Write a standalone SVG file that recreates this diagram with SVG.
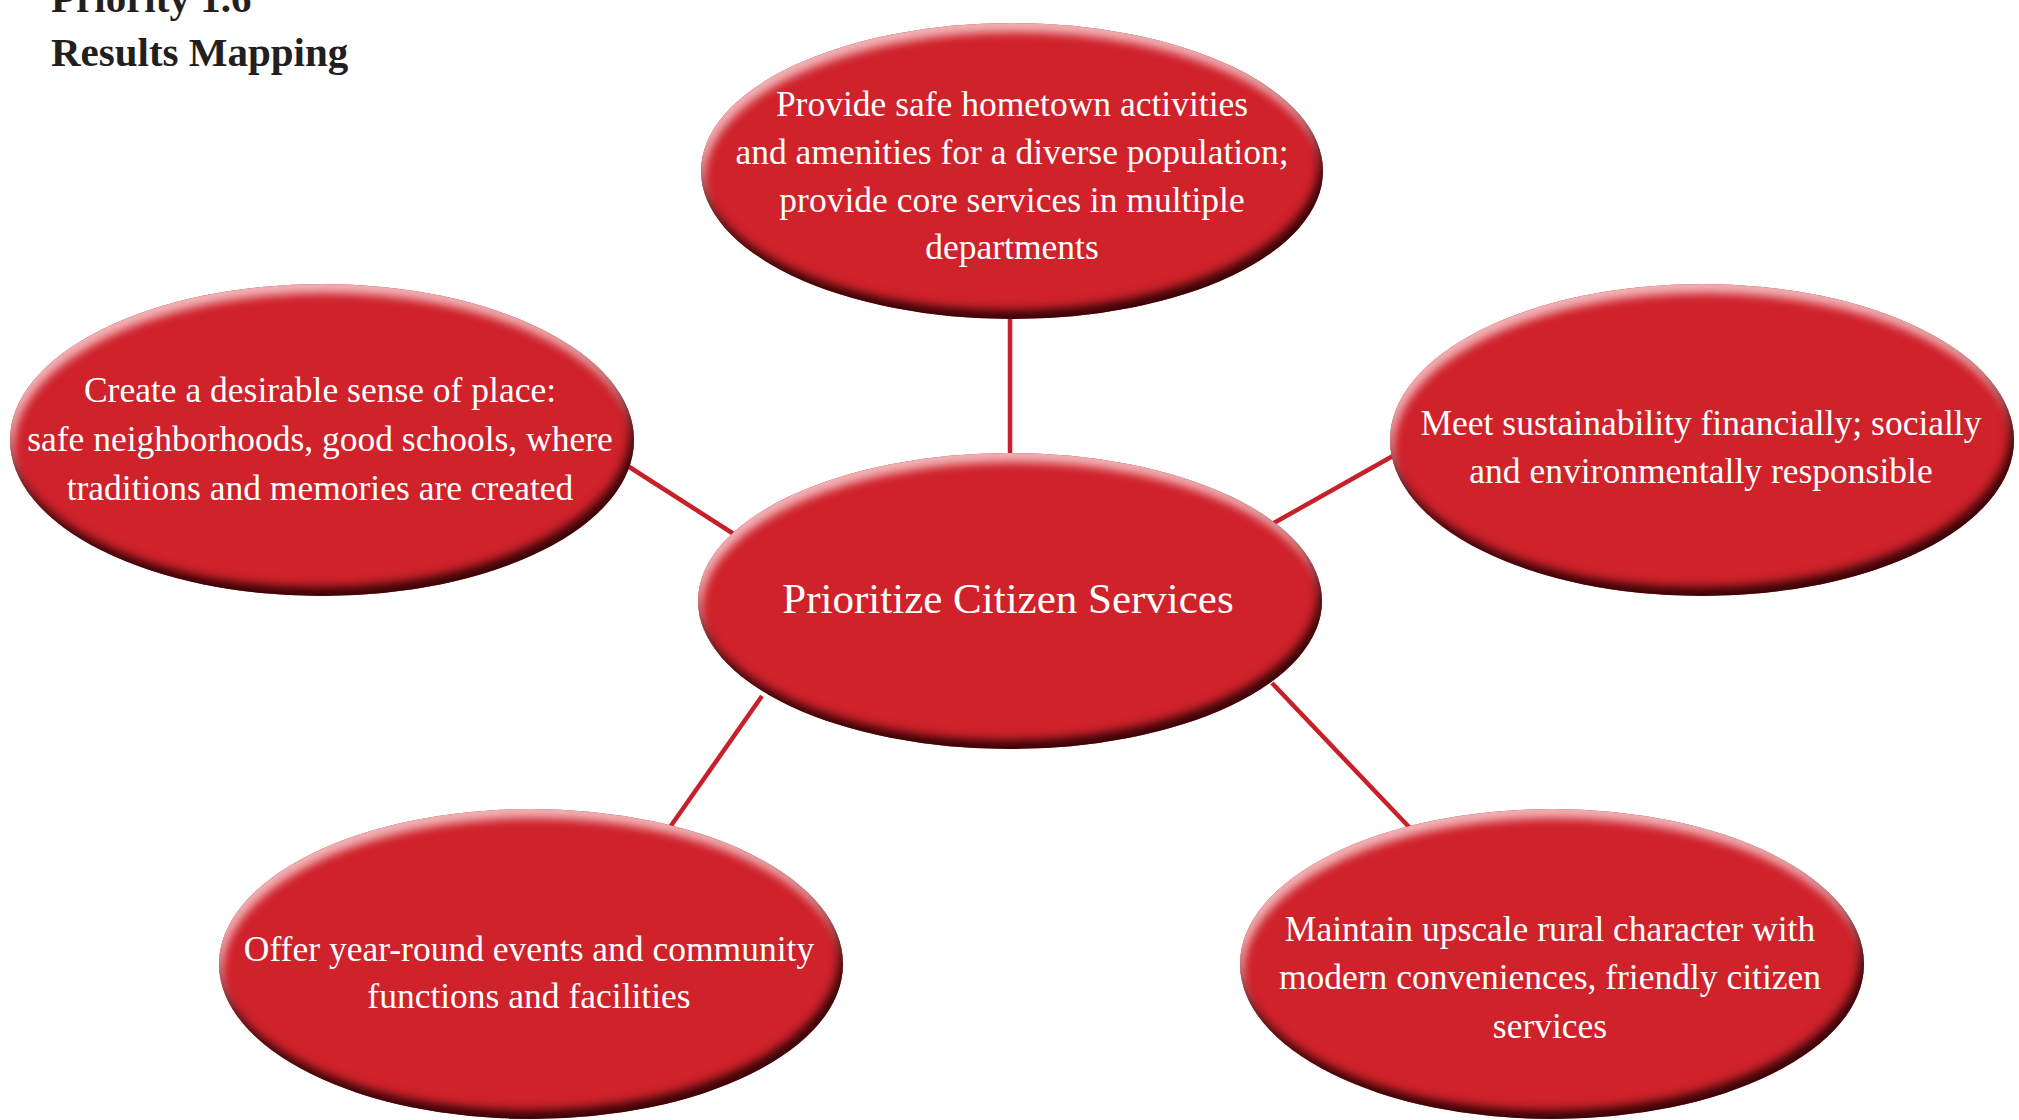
<svg xmlns="http://www.w3.org/2000/svg" width="2019" height="1120" viewBox="0 0 2019 1120">
<defs>
<filter id="bevel" x="-5%" y="-5%" width="110%" height="110%" color-interpolation-filters="sRGB">
<feGaussianBlur in="SourceAlpha" stdDeviation="5" result="b"/>
<feOffset in="b" dx="-4" dy="-9" result="o1"/>
<feComposite in="SourceAlpha" in2="o1" operator="out" result="rimBR"/>
<feFlood flood-color="#3a0407" result="dark"/>
<feComposite in="dark" in2="rimBR" operator="in" result="shadeBR"/>
<feOffset in="b" dx="3" dy="9" result="o2"/>
<feComposite in="SourceAlpha" in2="o2" operator="out" result="rimTL"/>
<feFlood flood-color="#f2b4b7" result="light"/>
<feComposite in="light" in2="rimTL" operator="in" result="shadeTL"/>
<feMerge><feMergeNode in="SourceGraphic"/><feMergeNode in="shadeTL"/><feMergeNode in="shadeBR"/></feMerge>
</filter>
</defs>
<style>
.node{fill:#cf222b;filter:url(#bevel);}
.lbl{font-family:"Liberation Serif","Times New Roman",serif;fill:#ffffff;font-size:35.5px;text-anchor:middle;}
.big{font-size:43px;}
.title{font-family:"Liberation Serif","Times New Roman",serif;font-weight:bold;fill:#231f20;font-size:41px;}
.conn{stroke:#c8202a;stroke-width:4.5;fill:none;}
</style>
<g id="title">
<text class="title" x="51" y="12">Priority 1.6</text>
<text class="title" x="51" y="66">Results Mapping</text>
</g>
<g id="connectors">
<line class="conn" x1="1010" y1="310" x2="1010" y2="460"/>
<line class="conn" x1="620" y1="461" x2="740" y2="538"/>
<line class="conn" x1="1400" y1="452" x2="1265" y2="528"/>
<line class="conn" x1="762" y1="696" x2="668" y2="830"/>
<line class="conn" x1="1272" y1="683" x2="1410" y2="828"/>
</g>
<g id="node-top">
<ellipse class="node" cx="1012" cy="171" rx="311" ry="148"/>
<text class="lbl" x="1012" y="116">Provide safe hometown activities</text>
<text class="lbl" x="1012" y="164">and amenities for a diverse population;</text>
<text class="lbl" x="1012" y="212">provide core services in multiple</text>
<text class="lbl" x="1012" y="259">departments</text>
</g>
<g id="node-left">
<ellipse class="node" cx="322" cy="440" rx="312" ry="156"/>
<text class="lbl" x="320" y="402">Create a desirable sense of place:</text>
<text class="lbl" x="320" y="451">safe neighborhoods, good schools, where</text>
<text class="lbl" x="320" y="500">traditions and memories are created</text>
</g>
<g id="node-right">
<ellipse class="node" cx="1702" cy="440" rx="312" ry="156"/>
<text class="lbl" x="1701" y="435">Meet sustainability financially; socially</text>
<text class="lbl" x="1701" y="483">and environmentally responsible</text>
</g>
<g id="node-center">
<ellipse class="node" cx="1010" cy="601" rx="312" ry="148"/>
<text class="lbl big" x="1008" y="613">Prioritize Citizen Services</text>
</g>
<g id="node-bottom-left">
<ellipse class="node" cx="531" cy="964" rx="312" ry="155"/>
<text class="lbl" x="529" y="961">Offer year-round events and community</text>
<text class="lbl" x="529" y="1008">functions and facilities</text>
</g>
<g id="node-bottom-right">
<ellipse class="node" cx="1552" cy="964" rx="312" ry="155"/>
<text class="lbl" x="1550" y="941">Maintain upscale rural character with</text>
<text class="lbl" x="1550" y="989">modern conveniences, friendly citizen</text>
<text class="lbl" x="1550" y="1038">services</text>
</g>
</svg>
